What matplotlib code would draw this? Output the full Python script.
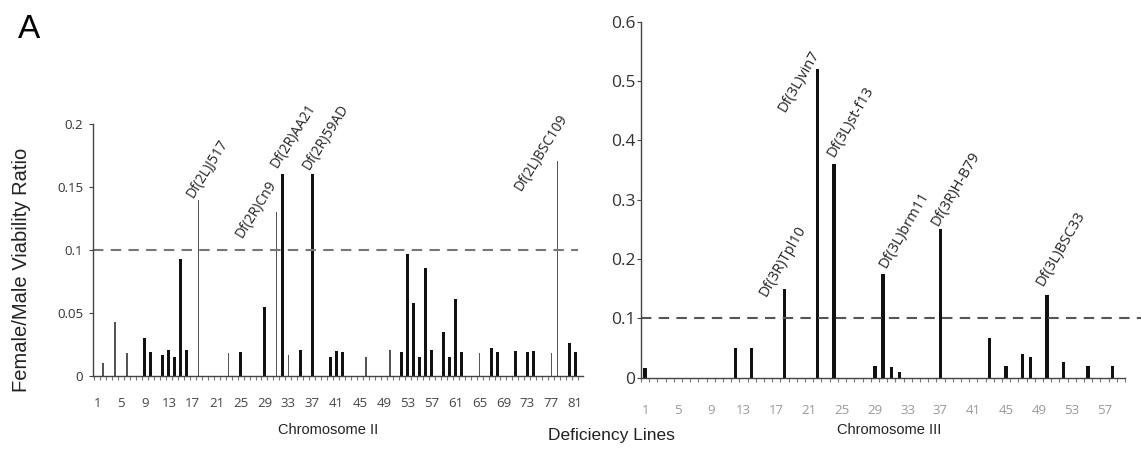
import matplotlib
matplotlib.use("Agg")
import matplotlib.pyplot as plt
import numpy as np

plt.rcParams['font.family'] = ['Liberation Sans', 'DejaVu Sans']

# Chromosome II deficiency lines and female/male viability ratio
chr2_lines = [2, 4, 6, 9, 10, 12, 13, 14, 15, 16, 18, 23, 25, 29, 31, 32, 33, 35, 37, 40,
              41, 42, 46, 50, 52, 53, 54, 55, 56, 57, 59, 60, 61, 62, 65, 67, 68, 71, 73, 74,
              77, 78, 80, 81]
chr2_ratio = [0.010, 0.043, 0.018, 0.030, 0.019, 0.017, 0.021, 0.015, 0.093, 0.021,
              0.140, 0.018, 0.019, 0.055, 0.130, 0.160, 0.017, 0.021, 0.160, 0.015,
              0.020, 0.019, 0.015, 0.021, 0.019, 0.097, 0.058, 0.015, 0.086, 0.021,
              0.035, 0.015, 0.061, 0.019, 0.018, 0.022, 0.019, 0.020, 0.019, 0.020,
              0.018, 0.171, 0.026, 0.019]
chr2_names = {18: 'Df(2L)J517', 31: 'Df(2R)Cn9', 32: 'Df(2R)AA21',
              37: 'Df(2R)59AD', 78: 'Df(2L)BSC109'}
chr2_thin = [2, 4, 6, 18, 23, 31, 33, 46, 50, 65, 77, 78]

# Chromosome III
chr3_lines = [1, 12, 14, 18, 22, 24, 29, 30, 31, 32, 37, 43, 45, 47, 48, 50, 52, 55, 58]
chr3_ratio = [0.017, 0.050, 0.050, 0.150, 0.520, 0.360, 0.020, 0.175, 0.018, 0.010,
              0.250, 0.067, 0.020, 0.040, 0.035, 0.140, 0.027, 0.019, 0.019]
chr3_names = {18: 'Df(3R)Tpl10', 22: 'Df(3L)vin7', 24: 'Df(3L)st-f13',
              30: 'Df(3L)brm11', 37: 'Df(3R)H-B79', 50: 'Df(3L)BSC33'}

threshold = 0.1

# label offsets (points) from bar top, per label
off2 = {18: (-4, 1), 31: (-25, -19), 32: (-4, 4), 37: (-2, 3), 78: (-26, -22)}
off3 = {18: (-13, -6), 22: (-23, -31), 24: (0, 5), 30: (2, 4), 37: (-1.5, 2), 50: (-3, 6)}

fig = plt.figure(figsize=(11.41, 4.57), dpi=100)
ax1 = fig.add_axes([0.0815, 0.1772, 0.4294, 0.5514])
ax2 = fig.add_axes([0.5618, 0.1735, 0.4242, 0.779])

# --- Chromosome II ---
w2 = [0.22 if x in chr2_thin else 0.5 for x in chr2_lines]
c2 = ['#555555' if x in chr2_thin else '#111111' for x in chr2_lines]
ax1.bar(chr2_lines, chr2_ratio, width=w2, color=c2, linewidth=0)
ax1.plot([0.3, 81.5], [threshold, threshold], color='#777777', lw=1.5,
         ls=(0, (5, 3.5)), clip_on=False)
ax1.set_xlim(0.3, 82.3)
ax1.set_ylim(0, 0.2)
ax1.set_yticks([0, 0.05, 0.1, 0.15, 0.2])
ax1.set_yticklabels(['0', '0.05', '0.1', '0.15', '0.2'])
ax1.set_xticks(range(1, 82, 4))
ax1.set_xticks(np.arange(0.5, 82, 1), minor=True)
for k, name in chr2_names.items():
    v = chr2_ratio[chr2_lines.index(k)]
    ax1.annotate(name, xy=(k, v), xytext=off2[k], textcoords='offset points',
                 rotation=58, rotation_mode='anchor', ha='left', va='baseline',
                 fontsize=10, family=['Open Sans', 'DejaVu Sans'], color='#222222')

# --- Chromosome III ---
ax2.bar(chr3_lines, chr3_ratio, width=0.42, color='#111111', linewidth=0)
ax2.plot([0.5, 61.5], [threshold, threshold], color='#555555', lw=1.5,
         ls=(0, (5, 3.5)), clip_on=False)
ax2.set_xlim(0.5, 59.5)
ax2.set_ylim(0, 0.6)
ax2.set_yticks(np.arange(0, 0.61, 0.1))
ax2.set_yticklabels(['0', '0.1', '0.2', '0.3', '0.4', '0.5', '0.6'])
ax2.set_xticks(range(1, 58, 4))
ax2.set_xticks(np.arange(0.5, 60, 1), minor=True)
for k, name in chr3_names.items():
    v = chr3_ratio[chr3_lines.index(k)]
    ax2.annotate(name, xy=(k, v), xytext=off3[k], textcoords='offset points',
                 rotation=60, rotation_mode='anchor', ha='left', va='baseline',
                 fontsize=10.5, family=['Open Sans', 'DejaVu Sans'], color='#222222')

for ax, ysize, xcol, xpad, ypad in [(ax1, 9.5, '#444444', 15, 4), (ax2, 12.5, '#999999', 19, 1)]:
    for s in ['top', 'right']:
        ax.spines[s].set_visible(False)
    for s in ['left', 'bottom']:
        ax.spines[s].set_color('#444444')
        ax.spines[s].set_linewidth(1.0)
    ax.tick_params(axis='x', which='major', length=0, pad=xpad, labelsize=9.5,
                   labelcolor=xcol)
    ax.tick_params(axis='x', which='minor', length=3, width=0.8, color='#777777',
                   direction='out')
    ax.tick_params(axis='y', length=3, width=0.8, color='#444444', pad=ypad,
                   labelsize=ysize, labelcolor='#333333')
    for lab in ax.get_xticklabels() + ax.get_yticklabels():
        lab.set_family(['Open Sans', 'DejaVu Sans'])

fig.text(0.016, 0.935, 'A', fontsize=24, ha='left', va='center')
fig.text(0.019, 0.41, 'Female/Male Viability Ratio', rotation=90, fontsize=14.5,
         ha='center', va='center', color='#222222')
fig.text(0.288, 0.059, 'Chromosome II', fontsize=10.5, ha='center', va='center',
         color='#222222')
fig.text(0.779, 0.059, 'Chromosome III', fontsize=10.5, ha='center', va='center',
         color='#222222')
fig.text(0.536, 0.046, 'Deficiency Lines', fontsize=12.5, ha='center', va='center',
         color='#222222')

fig.savefig('out.png', dpi=100)
